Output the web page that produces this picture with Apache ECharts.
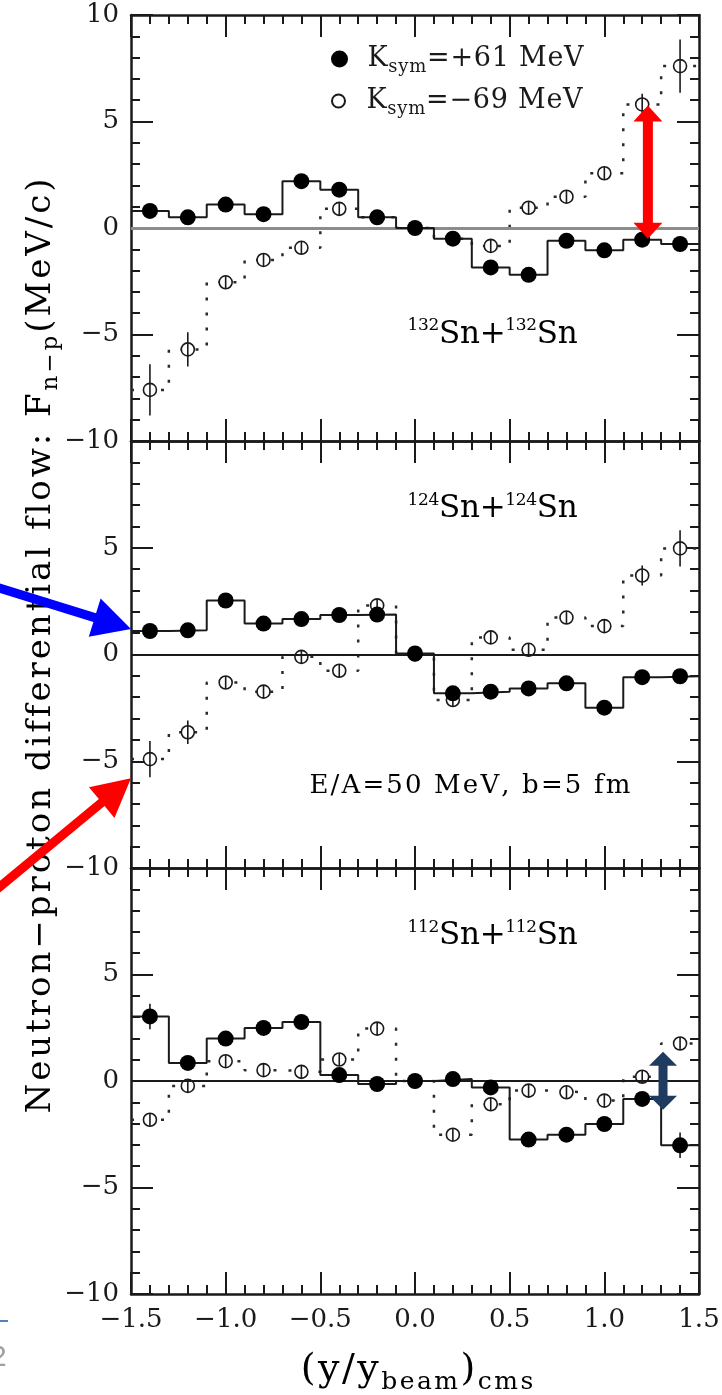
<!DOCTYPE html>
<html>
<head>
<meta charset="utf-8">
<script src="https://cdn.jsdelivr.net/npm/echarts@6/dist/echarts.min.js"></script>
<style>
html, body { margin: 0; padding: 0; background: #fff; }
#flowChart { width: 722px; height: 1395px; }
</style>
</head>
<body>
<div id="flowChart"></div>
<script>
// rapidity bin centres, (y/y_beam)cms, bins are 0.2 wide
const rapidity = [-1.4, -1.2, -1.0, -0.8, -0.6, -0.4, -0.2, 0.0, 0.2, 0.4, 0.6, 0.8, 1.0, 1.2, 1.4]
const binHalf = 0.1

// 132Sn+132Sn
const stiff132 = [0.8, 0.5, 1.1, 0.65, 2.2, 1.8, 0.5, 0.0, -0.5, -1.85, -2.2, -0.6, -1.05, -0.55, -0.75]
const soft132 = [-7.6, -5.7, -2.55, -1.5, -0.93, 0.9, 0.5, 0.0, -0.5, -0.84, 0.95, 1.47, 2.57, 5.8, 7.6]
const stiff132Err = [0.2, 0.2, 0.2, 0.2, 0.2, 0.2, 0.2, 0.2, 0.2, 0.2, 0.2, 0.2, 0.2, 0.2, 0.2]
const soft132Err = [1.2, 0.8, 0.3, 0.3, 0.3, 0.3, 0.3, 0.3, 0.3, 0.3, 0.3, 0.3, 0.3, 0.5, 1.25]

// 124Sn+124Sn
const stiff124 = [1.1, 1.13, 2.53, 1.45, 1.66, 1.85, 1.87, 0.05, -1.82, -1.74, -1.59, -1.35, -2.49, -1.06, -1.02]
const soft124 = [-4.9, -3.64, -1.31, -1.74, -0.11, -0.76, 2.3, 0.0, -2.13, 0.8, 0.22, 1.73, 1.33, 3.7, 4.97]
const stiff124Err = [0.2, 0.2, 0.2, 0.2, 0.2, 0.2, 0.2, 0.2, 0.2, 0.2, 0.2, 0.2, 0.2, 0.2, 0.2]
const soft124Err = [0.85, 0.55, 0.3, 0.3, 0.3, 0.3, 0.3, 0.3, 0.3, 0.3, 0.3, 0.3, 0.3, 0.47, 0.85]

// 112Sn+112Sn
const stiff112 = [3.03, 0.85, 1.99, 2.49, 2.77, 0.28, -0.14, 0.0, 0.09, -0.3, -2.75, -2.52, -2.02, -0.84, -3.02]
const soft112 = [-1.82, -0.23, 0.93, 0.51, 0.43, 1.01, 2.46, 0.0, -2.52, -1.09, -0.45, -0.53, -0.92, 0.2, 1.76]
const stiff112Err = [0.6, 0.2, 0.2, 0.2, 0.2, 0.2, 0.2, 0.2, 0.2, 0.2, 0.2, 0.2, 0.2, 0.2, 0.6]
const soft112Err = [0.3, 0.3, 0.3, 0.3, 0.3, 0.3, 0.3, 0.3, 0.3, 0.3, 0.3, 0.3, 0.3, 0.3, 0.3]

const xTicks = [-1.5, -1.0, -0.5, 0.0, 0.5, 1.0, 1.5]
const yTicks = [-10, -5, 0, 5, 10]
const systems = ['132', '124', '112']
const kSym = ['+61', '\u221269']
const legendNames = kSym.map(k => 'Ksym=' + k + ' MeV')

const SERIF = '"DejaVu Serif", "Liberation Serif", serif'
const INK = '#1a1a1a'

const panels = [
  { stiff: stiff132, soft: soft132, stiffErr: stiff132Err, softErr: soft132Err, zeroColor: '#8c8c8c', zeroWidth: 3 },
  { stiff: stiff124, soft: soft124, stiffErr: stiff124Err, softErr: soft124Err, zeroColor: INK, zeroWidth: 2 },
  { stiff: stiff112, soft: soft112, stiffErr: stiff112Err, softErr: soft112Err, zeroColor: INK, zeroWidth: 2 }
]

const fmtNum = (v, d) => (v < 0 ? '\u2212' : '') + Math.abs(v).toFixed(d)

// the old plot font is loosely tracked: give each glyph its own cell, widened so the run fills `target` px
const measure = document.createElement('canvas').getContext('2d')
function fitText (parts, target, rich) {
  let natural = 0
  let count = 0
  parts.forEach(([str, st]) => {
    measure.font = st.fontSize + 'px ' + SERIF
    Array.from(str).forEach(ch => { natural += measure.measureText(ch).width; count++ })
  })
  const track = (target - natural) / count
  return parts.map(([str, st]) => {
    measure.font = st.fontSize + 'px ' + SERIF
    return Array.from(str).map(ch => {
      const key = st.key + ch.codePointAt(0)
      rich[key] = Object.assign({ fontFamily: SERIF, color: INK, align: 'center' }, st.style || {}, {
        fontSize: st.fontSize, width: measure.measureText(ch).width + track
      })
      return '{' + key + '|' + ch + '}'
    }).join('')
  }).join('')
}

// histogram outline: each bin is a flat segment, neighbours joined by vertical steps
function steps (vals) {
  const pts = []
  rapidity.forEach((x, k) => {
    pts.push([x - binHalf, vals[k]], [x + binHalf, vals[k]])
  })
  return pts
}

function xAxisFor (gridIndex, position, showLabel) {
  return {
    type: 'value', gridIndex, position,
    min: xTicks[0], max: xTicks[xTicks.length - 1], interval: xTicks[1] - xTicks[0],
    axisLine: { show: true, onZero: false, lineStyle: { color: INK, width: 2.5 } },
    axisTick: { show: true, inside: true, length: 22, lineStyle: { color: INK, width: 2 } },
    minorTick: { show: true, splitNumber: 5, length: 9, lineStyle: { color: INK, width: 2 } },
    axisLabel: { show: showLabel, formatter: v => fmtNum(v, 1), fontFamily: SERIF, fontSize: 26, color: INK, margin: 13 },
    splitLine: { show: false },
    minorSplitLine: { show: false }
  }
}

function yAxisFor (gridIndex, position, showLabel, hideTop) {
  return {
    type: 'value', gridIndex, position,
    min: yTicks[0], max: yTicks[yTicks.length - 1], interval: yTicks[1] - yTicks[0],
    axisLine: { show: true, onZero: false, lineStyle: { color: INK, width: 2.5 } },
    axisTick: { show: true, inside: true, length: 22, lineStyle: { color: INK, width: 2 } },
    minorTick: { show: true, splitNumber: 5, length: 9, lineStyle: { color: INK, width: 2 } },
    axisLabel: {
      show: showLabel,
      formatter: v => (hideTop && v === yTicks[yTicks.length - 1]) ? '' : fmtNum(v, 0),
      fontFamily: SERIF, fontSize: 26, color: INK, margin: 12
    },
    splitLine: { show: false },
    minorSplitLine: { show: false }
  }
}

function renderErrorBar (params, api) {
  const x = api.value(0)
  const lo = api.coord([x, api.value(1)])
  const hi = api.coord([x, api.value(2)])
  return {
    type: 'line',
    shape: { x1: lo[0], y1: lo[1], x2: hi[0], y2: hi[1] },
    style: { stroke: INK, lineWidth: 1.6 }
  }
}

const gridTops = [15, 441, 868]
const gridHeights = [426, 427, 426]
const grids = []
const xAxes = []
const yAxes = []
const series = []

panels.forEach((p, i) => {
  const last = i === panels.length - 1
  grids.push({ left: 131, right: 23, top: gridTops[i], height: gridHeights[i], outerBoundsMode: 'none' })
  xAxes.push(xAxisFor(i, 'bottom', last))
  xAxes.push(xAxisFor(i, 'top', false))
  yAxes.push(yAxisFor(i, 'left', true, i > 0))
  yAxes.push(yAxisFor(i, 'right', false, false))
  const ax = { xAxisIndex: 2 * i, yAxisIndex: 2 * i }

  // soft (open) histogram, dotted, with the y=0 reference line
  series.push(Object.assign({
    type: 'line', name: 'soft-step-' + i, data: steps(p.soft), symbol: 'none', silent: true, z: 2,
    lineStyle: { color: '#2a2a2a', width: 2.5, type: [3, 12] },
    markLine: {
      silent: true, symbol: 'none', label: { show: false },
      lineStyle: { color: p.zeroColor, width: p.zeroWidth, type: 'solid' },
      data: [{ yAxis: 0 }]
    }
  }, ax))
  series.push(Object.assign({
    type: 'scatter', name: legendNames[1], data: rapidity.map((x, k) => [x, p.soft[k]]),
    symbol: 'circle', symbolSize: 13, z: 3,
    itemStyle: { color: '#fff', borderColor: INK, borderWidth: 1.6, opacity: 1 }
  }, ax))
  const bars = rapidity.map((x, k) => [x, p.soft[k] - p.softErr[k], p.soft[k] + p.softErr[k]])
    .concat(rapidity.map((x, k) => [x, p.stiff[k] - p.stiffErr[k], p.stiff[k] + p.stiffErr[k]]))
  series.push(Object.assign({
    type: 'custom', name: 'errors-' + i, data: bars, renderItem: renderErrorBar,
    encode: { x: 0, y: [1, 2] }, silent: true, z: 4
  }, ax))
  // stiff (filled) histogram, solid
  series.push(Object.assign({
    type: 'line', name: 'stiff-step-' + i, data: steps(p.stiff), symbol: 'none', silent: true, z: 5,
    lineStyle: { color: INK, width: 2 }
  }, ax))
  series.push(Object.assign({
    type: 'scatter', name: legendNames[0], data: rapidity.map((x, k) => [x, p.stiff[k]]),
    symbol: 'circle', symbolSize: 16, z: 6,
    itemStyle: { color: '#000', opacity: 1 }
  }, ax))
})

// legend text K_sym=... MeV
const legendRich = {}
const legendTexts = legendNames.map((name, i) => fitText([
  ['K', { key: 'k' + i + 'x', fontSize: 27, style: { lineHeight: 36 } }],
  ['sym', { key: 's' + i + 'x', fontSize: 18, style: { lineHeight: 36, padding: [16, 0, 0, 0] } }],
  [name.slice(4), { key: 'k' + i + 'x', fontSize: 27, style: { lineHeight: 36 } }]
], 217, legendRich))
const legendFmt = name => legendTexts[legendNames.indexOf(name)]

const chart = echarts.init(document.getElementById('flowChart'))
chart.setOption({
  animation: false,
  backgroundColor: '#fff',
  grid: grids,
  xAxis: xAxes,
  yAxis: yAxes,
  legend: [
    { orient: 'vertical', left: 331, top: 42, padding: 0, itemWidth: 45, itemHeight: 17, selectedMode: false,
      data: [{ name: legendNames[0], icon: 'circle' }], formatter: legendFmt, textStyle: { rich: legendRich } },
    { orient: 'vertical', left: 331, top: 84, padding: 0, itemWidth: 45, itemHeight: 13, selectedMode: false,
      data: [{ name: legendNames[1], icon: 'circle' }], formatter: legendFmt, textStyle: { rich: legendRich } }
  ],
  series: series
})

// annotations: labels, axis titles and the slide's arrows
const px = (g, pt) => chart.convertToPixel({ gridIndex: g }, pt)

function arrowPoints (p1, p2, shaft, headLen, headW, both) {
  const dx = p2[0] - p1[0]
  const dy = p2[1] - p1[1]
  const len = Math.hypot(dx, dy)
  const ux = dx / len
  const uy = dy / len
  const at = (p, along, side) => [p[0] + ux * along - uy * side, p[1] + uy * along + ux * side]
  const s = shaft / 2
  const h = headW / 2
  const pts = []
  if (both) pts.push(p1, at(p1, headLen, h), at(p1, headLen, s))
  else pts.push(at(p1, 0, s))
  pts.push(at(p2, -headLen, s), at(p2, -headLen, h), p2, at(p2, -headLen, -h), at(p2, -headLen, -s))
  if (both) pts.push(at(p1, headLen, -s), at(p1, headLen, -h))
  else pts.push(at(p1, 0, -s))
  return pts
}

const sysLabelPos = [[0.41, -5.0], [0.41, 6.8], [0.41, 6.8]]
const graphics = systems.map((a, i) => {
  const p = px(i, sysLabelPos[i])
  const rich = {}
  const sup = { key: 'u', fontSize: 17, style: { padding: [0, 0, 18, 0] } }
  const main = { key: 'm', fontSize: 31 }
  const text = fitText([[a, sup], ['Sn+', main], [a, sup], ['Sn', main]], 170, rich)
  return {
    type: 'text', x: p[0], y: p[1], z: 50,
    style: { text, rich, align: 'center', verticalAlign: 'middle' }
  }
})

const ePos = px(1, [0.29, -6.15])
const eRich = {}
graphics.push({
  type: 'text', x: ePos[0], y: ePos[1], z: 50,
  style: {
    text: fitText([['E/A=50 MeV, b=5 fm', { key: 'e', fontSize: 26 }]], 323, eRich),
    rich: eRich, align: 'center', verticalAlign: 'middle'
  }
})

// y title, reads bottom to top
const yRich = {}
graphics.push({
  type: 'text', x: 41, y: 646, rotation: Math.PI / 2, z: 50,
  style: {
    text: fitText([
      ['Neutron\u2212proton differential flow: F', { key: 'm', fontSize: 34 }],
      ['n\u2212p', { key: 's', fontSize: 23, style: { padding: [20, 0, 0, 0] } }],
      ['(MeV/c)', { key: 'm', fontSize: 34 }]
    ], 938, yRich),
    rich: yRich, align: 'center', verticalAlign: 'middle'
  }
})

// x title
const xMid = px(2, [0, yTicks[0]])
const xRich = {}
graphics.push({
  type: 'text', x: xMid[0] + 2, y: xMid[1] + 76, z: 50,
  style: {
    text: fitText([
      ['(y/y', { key: 'm', fontSize: 38 }],
      ['beam', { key: 's', fontSize: 25, style: { padding: [24, 0, 0, 0] } }],
      [')', { key: 'm', fontSize: 38 }],
      ['cms', { key: 's', fontSize: 25, style: { padding: [24, 0, 0, 0] } }]
    ], 235, xRich),
    rich: xRich, align: 'center', verticalAlign: 'middle'
  }
})

// double arrows inside panels
const redTop = px(0, [1.23, 5.75])
const redBot = px(0, [1.23, -0.5])
graphics.push({ type: 'polygon', z: 60, shape: { points: arrowPoints(redTop, redBot, 10, 16, 29, true) }, style: { fill: '#ff0000' } })
const navyTop = px(2, [1.31, 1.37])
const navyBot = px(2, [1.31, -1.35])
graphics.push({ type: 'polygon', z: 60, shape: { points: arrowPoints(navyTop, navyBot, 9, 14, 28, true) }, style: { fill: '#1f3b5f' } })

// arrows coming in from the slide on the left
graphics.push({ type: 'polygon', z: 60, shape: { points: arrowPoints([-4, 587], px(1, [-1.5, 1.2]), 9, 38, 40, false) }, style: { fill: '#0000ff' } })
graphics.push({ type: 'polygon', z: 60, shape: { points: arrowPoints([-4, 890], px(1, [-1.5, -5.8]), 9, 38, 40, false) }, style: { fill: '#ff0000' } })

// slide fragments at the lower left edge
graphics.push({ type: 'line', z: 60, shape: { x1: 0, y1: 1321, x2: 8, y2: 1321 }, style: { stroke: '#4f81bd', lineWidth: 2 } })
graphics.push({ type: 'text', x: -10, y: 1358, z: 60, style: { text: '2', fontFamily: 'Liberation Sans', fontSize: 30, fill: '#a0a0a0', verticalAlign: 'middle' } })

chart.setOption({ graphic: graphics })
</script>
</body>
</html>
